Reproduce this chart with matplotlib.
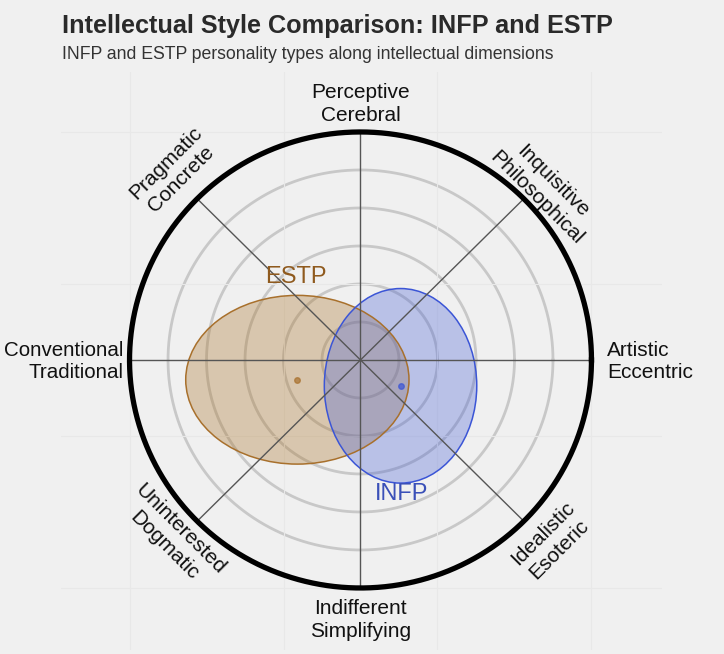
import matplotlib.pyplot as plt
from matplotlib.patches import Ellipse
import numpy as np

plt.rcParams['font.family'] = ['Liberation Sans', 'DejaVu Sans']

# personality types: centre (x, y), half-widths (x, y)
types = ["ESTP", "INFP"]
centre_x = [-0.82, 0.52]
centre_y = [-0.26, -0.34]
spread_x = [1.45, 0.99]
spread_y = [1.11, 1.28]
label_x = [-0.84, 0.53]
label_y = [1.09, -1.76]
edge_cols = ["#a8702c", "#3b55d6"]
fill_cols = ["#aa7328", "#4a63d6"]
text_cols = ["#8f5a1e", "#3a50b8"]

# axis end labels, angle in degrees (0 = right)
axis_angles = [90, 45, 0, -45, -90, -135, 180, 135]
axis_labels = ["Perceptive\nCerebral", "Inquisitive\nPhilosophical",
               "Artistic\nEccentric", "Idealistic\nEsoteric",
               "Indifferent\nSimplifying", "Uninterested\nDogmatic",
               "Conventional\nTraditional", "Pragmatic\nConcrete"]

R = 3.0
rings = [0.5, 1.0, 1.5, 2.0, 2.5]

W, H = 724, 654
fig = plt.figure(figsize=(W / 100, H / 100), dpi=100, facecolor="#f0f0f0")
ax = fig.add_axes([61 / W, 1 - 650 / H, (662 - 61) / W, (650 - 72) / H])
ax.set_facecolor("#f0f0f0")
ax.set_xlim(-3.89, 3.916)
ax.set_ylim(-3.816, 3.789)
ax.set_xticks([-3, -1, 1, 3])
ax.set_yticks([-3, -1, 1, 3])
ax.tick_params(length=0, labelbottom=False, labelleft=False)
ax.grid(True, color="#e8e8e8", lw=0.8)
for s in ax.spines.values():
    s.set_visible(False)

t = np.linspace(0, 2 * np.pi, 400)
for r in rings:
    ax.plot(r * np.cos(t), r * np.sin(t), color="#c8c8c8", lw=2, zorder=1)

for a in [0, 45, 90, 135]:
    rad = np.deg2rad(a)
    ax.plot([-R * np.cos(rad), R * np.cos(rad)], [-R * np.sin(rad), R * np.sin(rad)],
            color="#555555", lw=1, zorder=4)

ax.plot(R * np.cos(t), R * np.sin(t), color="black", lw=3.8, zorder=5)

for i in range(len(types)):
    e = Ellipse((centre_x[i], centre_y[i]), 2 * spread_x[i], 2 * spread_y[i],
                facecolor=fill_cols[i], alpha=0.33, edgecolor="none", zorder=2)
    ax.add_patch(e)
    e2 = Ellipse((centre_x[i], centre_y[i]), 2 * spread_x[i], 2 * spread_y[i],
                 facecolor="none", edgecolor=edge_cols[i], lw=1.1, zorder=3)
    ax.add_patch(e2)
    ax.plot(centre_x[i], centre_y[i], "o", ms=4, color=edge_cols[i], alpha=0.7, zorder=6)
    ax.text(label_x[i], label_y[i], types[i], color=text_cols[i], fontsize=17,
            ha="center", va="center", zorder=7)

# label positions/rotations
lab_pos = {90: (0, 3.37, 0, "center"), 45: (2.39, 2.24, -45, "center"),
           0: (3.2, -0.02, 0, "left"), -45: (2.47, -2.39, 45, "center"),
           -90: (0, -3.42, 0, "center"), -135: (-2.45, -2.33, -45, "center"),
           180: (-3.08, -0.02, 0, "right"), 135: (-2.43, 2.48, 45, "center")}
for a, lab in zip(axis_angles, axis_labels):
    x, y, rot, ha = lab_pos[a]
    ax.text(x, y, lab, fontsize=15 if a != 180 else 14.8, color="#111111",
            ha=ha, va="center", rotation=rot, rotation_mode="anchor",
            multialignment=ha, linespacing=1.25)

fig.text(62 / W, 1 - 33 / H, "Intellectual Style Comparison: INFP and ESTP",
         fontsize=18.2, fontweight="bold", color="#2a2a2a", ha="left", va="baseline")
fig.text(62 / W, 1 - 59 / H, "INFP and ESTP personality types along intellectual dimensions",
         fontsize=12.7, color="#333333", ha="left", va="baseline")

fig.savefig("out.png", dpi=100, facecolor=fig.get_facecolor())
